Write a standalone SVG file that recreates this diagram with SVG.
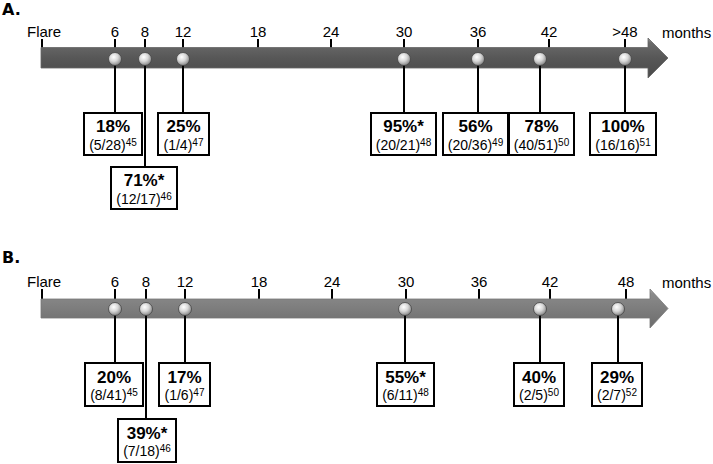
<svg xmlns="http://www.w3.org/2000/svg" width="713" height="464" viewBox="0 0 713 464">
<defs>
<linearGradient id="barA" x1="0" y1="0" x2="0" y2="1">
<stop offset="0" stop-color="#9a9a9a"/><stop offset="0.12" stop-color="#6a6a6a"/><stop offset="0.5" stop-color="#575757"/><stop offset="1" stop-color="#4a4a4a"/>
</linearGradient>
<linearGradient id="barB" x1="0" y1="0" x2="0" y2="1">
<stop offset="0" stop-color="#b0b0b0"/><stop offset="0.12" stop-color="#8a8a8a"/><stop offset="0.5" stop-color="#7d7d7d"/><stop offset="1" stop-color="#6c6c6c"/>
</linearGradient>
<radialGradient id="ball" cx="0.4" cy="0.35" r="0.65">
<stop offset="0" stop-color="#ffffff"/><stop offset="0.5" stop-color="#d8d8d8"/><stop offset="1" stop-color="#8a8a8a"/>
</radialGradient>
</defs>
<style>
text{font-family:"Liberation Sans",Arial,sans-serif;fill:#000}
.panel{font-family:"DejaVu Sans",Verdana,sans-serif;font-weight:bold;font-size:16px}
.tick{font-size:15px;text-anchor:middle}
.lbl{font-size:15px}
.tk{stroke:#000;stroke-width:2}
.conn line{stroke:#000;stroke-width:2}
.box rect{fill:#fff;stroke:#000;stroke-width:2}
.pct{font-size:17px;font-weight:bold;text-anchor:middle}
.cnt{font-size:14px;text-anchor:middle}
.sup{font-size:10px}
.ball{fill:url(#ball);stroke:#444;stroke-width:0.8}
</style>

<!-- Panel A -->
<text class="panel" x="2" y="15">A.</text>
<g id="axisA">
<g class="tk">
<line x1="42" y1="39" x2="42" y2="48"/><line x1="115" y1="39" x2="115" y2="48"/><line x1="145" y1="39" x2="145" y2="48"/><line x1="183" y1="39" x2="183" y2="48"/><line x1="258" y1="39" x2="258" y2="48"/><line x1="331" y1="39" x2="331" y2="48"/><line x1="404" y1="39" x2="404" y2="48"/><line x1="478" y1="39" x2="478" y2="48"/><line x1="549" y1="39" x2="549" y2="48"/><line x1="625" y1="39" x2="625" y2="48"/>
</g>
<path d="M41,47.5 L648,47.5 L648,38 L668,58 L648,78 L648,68 L41,68 Z" fill="url(#barA)" stroke="#666" stroke-width="0.8"/>
<text class="lbl" x="27" y="37">Flare</text>
<text class="tick" x="115" y="37">6</text><text class="tick" x="145" y="37">8</text><text class="tick" x="183" y="37">12</text><text class="tick" x="258" y="37">18</text><text class="tick" x="331" y="37">24</text><text class="tick" x="404" y="37">30</text><text class="tick" x="478" y="37">36</text><text class="tick" x="549" y="37">42</text><text class="tick" x="625" y="37">&gt;48</text>
<text class="lbl" x="662" y="38">months</text>
</g>
<g class="conn" id="connectorsA">
<line x1="115" y1="59" x2="115" y2="113"/><line x1="145" y1="59" x2="145" y2="167"/><line x1="183" y1="59" x2="183" y2="113"/><line x1="404" y1="59" x2="404" y2="113"/><line x1="478" y1="59" x2="478" y2="113"/><line x1="540" y1="59" x2="540" y2="113"/><line x1="625" y1="59" x2="625" y2="113"/>
</g>
<g id="ballsA">
<circle class="ball" cx="115" cy="59" r="6.5"/><circle class="ball" cx="145" cy="59" r="6.5"/><circle class="ball" cx="183" cy="59" r="6.5"/><circle class="ball" cx="404" cy="59" r="6.5"/><circle class="ball" cx="478" cy="59" r="6.5"/><circle class="ball" cx="540" cy="59" r="6.5"/><circle class="ball" cx="625" cy="59" r="6.5"/>
</g>
<g id="a6" class="box"><rect x="84" y="113" width="58" height="42"/><text class="pct" x="113" y="132">18%</text><text class="cnt" x="113" y="150">(5/28)<tspan class="sup" dy="-4">45</tspan></text></g>
<g id="a8" class="box"><rect x="111" y="167" width="66" height="42"/><text class="pct" x="144" y="186">71%*</text><text class="cnt" x="144" y="204">(12/17)<tspan class="sup" dy="-4">46</tspan></text></g>
<g id="a12" class="box"><rect x="158" y="113" width="51" height="42"/><text class="pct" x="183.5" y="132">25%</text><text class="cnt" x="183.5" y="150">(1/4)<tspan class="sup" dy="-4">47</tspan></text></g>
<g id="a30" class="box"><rect x="371" y="113" width="65" height="42"/><text class="pct" x="403.5" y="132">95%*</text><text class="cnt" x="403.5" y="150">(20/21)<tspan class="sup" dy="-4">48</tspan></text></g>
<g id="a36" class="box"><rect x="443" y="113" width="65" height="42"/><text class="pct" x="475.5" y="132">56%</text><text class="cnt" x="475.5" y="150">(20/36)<tspan class="sup" dy="-4">49</tspan></text></g>
<g id="a42" class="box"><rect x="509" y="113" width="65" height="42"/><text class="pct" x="541.5" y="132">78%</text><text class="cnt" x="541.5" y="150">(40/51)<tspan class="sup" dy="-4">50</tspan></text></g>
<g id="a48" class="box"><rect x="590" y="113" width="66" height="42"/><text class="pct" x="623" y="132">100%</text><text class="cnt" x="623" y="150">(16/16)<tspan class="sup" dy="-4">51</tspan></text></g>

<!-- Panel B -->
<text class="panel" x="2" y="263">B.</text>
<g id="axisB">
<g class="tk">
<line x1="42" y1="289" x2="42" y2="300"/><line x1="115" y1="289" x2="115" y2="300"/><line x1="146" y1="289" x2="146" y2="300"/><line x1="185" y1="289" x2="185" y2="300"/><line x1="259" y1="289" x2="259" y2="300"/><line x1="332" y1="289" x2="332" y2="300"/><line x1="406" y1="289" x2="406" y2="300"/><line x1="479" y1="289" x2="479" y2="300"/><line x1="550" y1="289" x2="550" y2="300"/><line x1="626" y1="289" x2="626" y2="300"/>
</g>
<path d="M41,299 L650,299 L650,289 L668,308.5 L650,328 L650,318 L41,318 Z" fill="url(#barB)" stroke="#777" stroke-width="0.8"/>
<text class="lbl" x="27" y="287">Flare</text>
<text class="tick" x="115" y="287">6</text><text class="tick" x="146" y="287">8</text><text class="tick" x="185" y="287">12</text><text class="tick" x="259" y="287">18</text><text class="tick" x="332" y="287">24</text><text class="tick" x="406" y="287">30</text><text class="tick" x="479" y="287">36</text><text class="tick" x="550" y="287">42</text><text class="tick" x="626" y="287">48</text>
<text class="lbl" x="662" y="288">months</text>
</g>
<g class="conn" id="connectorsB">
<line x1="115" y1="309" x2="115" y2="363"/><line x1="146" y1="309" x2="146" y2="419"/><line x1="185" y1="309" x2="185" y2="363"/><line x1="405" y1="309" x2="405" y2="363"/><line x1="540" y1="309" x2="540" y2="363"/><line x1="618" y1="309" x2="618" y2="363"/>
</g>
<g id="ballsB">
<circle class="ball" cx="115" cy="309" r="6.5"/><circle class="ball" cx="146" cy="309" r="6.5"/><circle class="ball" cx="185" cy="309" r="6.5"/><circle class="ball" cx="405" cy="309" r="6.5"/><circle class="ball" cx="540" cy="309" r="6.5"/><circle class="ball" cx="618" cy="309" r="6.5"/>
</g>
<g id="b6" class="box"><rect x="85" y="363" width="58" height="43"/><text class="pct" x="114" y="383">20%</text><text class="cnt" x="114" y="400">(8/41)<tspan class="sup" dy="-4">45</tspan></text></g>
<g id="b8" class="box"><rect x="118" y="419" width="58" height="43"/><text class="pct" x="147" y="439">39%*</text><text class="cnt" x="147" y="456">(7/18)<tspan class="sup" dy="-4">46</tspan></text></g>
<g id="b12" class="box"><rect x="159" y="363" width="51" height="43"/><text class="pct" x="184.5" y="383">17%</text><text class="cnt" x="184.5" y="400">(1/6)<tspan class="sup" dy="-4">47</tspan></text></g>
<g id="b30" class="box"><rect x="377" y="363" width="57" height="43"/><text class="pct" x="405.5" y="383">55%*</text><text class="cnt" x="405.5" y="400">(6/11)<tspan class="sup" dy="-4">48</tspan></text></g>
<g id="b42" class="box"><rect x="514" y="363" width="50" height="43"/><text class="pct" x="539" y="383">40%</text><text class="cnt" x="539" y="400">(2/5)<tspan class="sup" dy="-4">50</tspan></text></g>
<g id="b48" class="box"><rect x="592" y="363" width="50" height="43"/><text class="pct" x="617" y="383">29%</text><text class="cnt" x="617" y="400">(2/7)<tspan class="sup" dy="-4">52</tspan></text></g>
</svg>
